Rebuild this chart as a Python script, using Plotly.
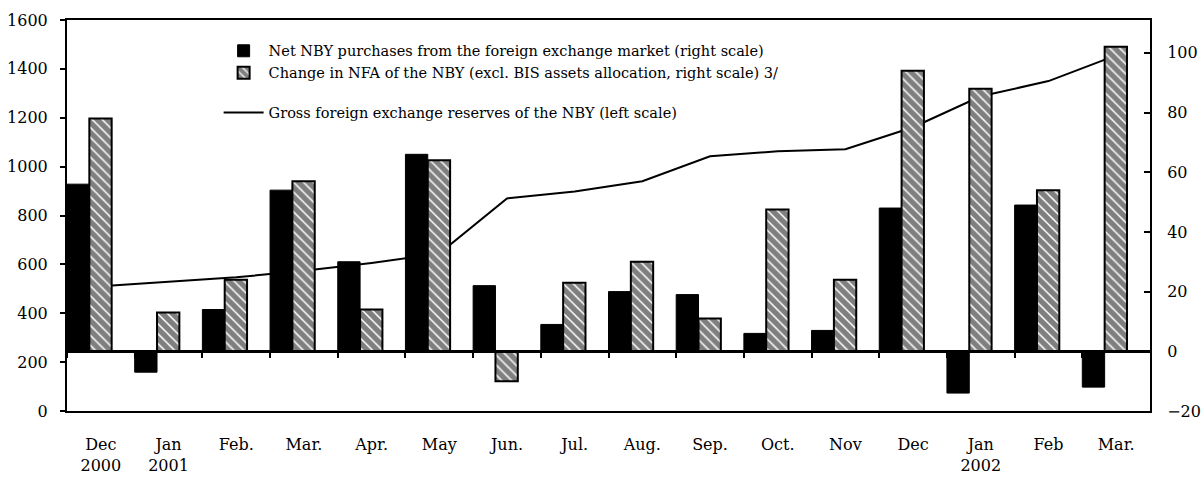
import plotly.graph_objects as go

# ---------------- data ----------------
tick_labels = ["Dec<br>2000", "Jan<br>2001", "Feb.", "Mar.", "Apr.", "May", "Jun.", "Jul.",
               "Aug.", "Sep.", "Oct.", "Nov", "Dec", "Jan<br>2002", "Feb", "Mar."]
positions = list(range(len(tick_labels)))

net_purchases = [56, -7, 14, 54, 30, 66, 22, 9, 20, 19, 6, 7, 48, -14, 49, -12]          # right scale
nfa_change = [78, 13, 24, 57, 14, 64, -10, 23, 30, 11, 47.5, 24, 94, 88, 54, 102]         # right scale
gross_reserves = [510, 530, 547, 574, 606, 644, 870, 898, 940, 1042, 1063, 1071, 1161,
                  1288, 1350, 1455]                                                       # left scale

left_ticks = [0, 200, 400, 600, 800, 1000, 1200, 1400, 1600]
right_ticks = [-20, 0, 20, 40, 60, 80, 100]
boundaries = [p - 0.5 for p in positions]

name_net = "Net NBY purchases from the foreign exchange market (right scale)"
name_nfa = "Change in NFA of the NBY (excl. BIS assets allocation, right scale) 3/"
name_res = "Gross foreign exchange reserves of the NBY (left scale)"

FONT = "DejaVu Serif, Liberation Serif, serif"
Y2_RANGE = [-20, 111]

fig = go.Figure()

fig.add_trace(go.Scatter(
    x=positions, y=gross_reserves, mode="lines", name=name_res,
    line=dict(color="black", width=2), xaxis="x", yaxis="y",
    legendgroup="b", legendrank=3,
))

fig.add_trace(go.Bar(
    x=positions, y=net_purchases, name=name_net, xaxis="x", yaxis="y2",
    offset=-0.5, width=0.33,
    marker=dict(color="black", line=dict(color="black", width=1)),
    legendgroup="a", legendrank=1,
))

fig.add_trace(go.Bar(
    x=positions, y=nfa_change, name=name_nfa, xaxis="x", yaxis="y2",
    offset=-0.17, width=0.33,
    marker=dict(color="white", line=dict(color="black", width=2),
                pattern=dict(shape="\\", fgcolor="black", bgcolor="white",
                             size=7, solidity=0.78, fillmode="overlay")),
    legendgroup="a", legendrank=2,
))

# helper trace to carry the category tick marks on the zero line of the right scale
fig.add_trace(go.Scatter(
    x=[positions[0]], y=[0], mode="none", xaxis="x2", yaxis="y2",
    showlegend=False, hoverinfo="skip",
))

zero_pos = (0 - Y2_RANGE[0]) / (Y2_RANGE[1] - Y2_RANGE[0])

fig.update_layout(
    width=1204, height=482,
    margin=dict(l=67, r=54, t=20, b=71, pad=0, autoexpand=False),
    paper_bgcolor="white", plot_bgcolor="white",
    font=dict(family=FONT, size=15, color="black"),
    barmode="overlay",
    showlegend=True,
    legend=dict(
        x=0.14, y=0.962, xanchor="left", yanchor="top",
        bgcolor="rgba(255,255,255,0)", borderwidth=0,
        font=dict(family=FONT, size=14.5, color="black"),
        traceorder="grouped", tracegroupgap=18, itemwidth=40,
    ),
    xaxis=dict(
        range=[-0.5, 15.5], tickmode="array", tickvals=positions, ticktext=tick_labels,
        ticks="", showline=True, linecolor="black", linewidth=2, mirror=True,
        showgrid=False, zeroline=False, ticklabelstandoff=18, automargin=False,
        tickfont=dict(family=FONT, size=16),
    ),
    xaxis2=dict(
        range=[-0.5, 15.5], overlaying="x", anchor="free", position=zero_pos,
        tickmode="array", tickvals=boundaries, showticklabels=False,
        ticks="outside", ticklen=5, tickwidth=2, tickcolor="black",
        showline=True, linecolor="black", linewidth=2.5,
        showgrid=False, zeroline=False, automargin=False,
    ),
    yaxis=dict(
        range=[0, 1600], tickmode="array", tickvals=left_ticks,
        ticks="outside", ticklen=5, tickwidth=2, tickcolor="black",
        showline=True, linecolor="black", linewidth=2,
        showgrid=False, zeroline=False, ticklabelstandoff=9, automargin=False,
        tickfont=dict(family=FONT, size=16),
    ),
    yaxis2=dict(
        range=Y2_RANGE, overlaying="y", side="right", tickmode="array", tickvals=right_ticks,
        ticks="inside", ticklen=6, tickwidth=2, tickcolor="black",
        showline=True, linecolor="black", linewidth=2,
        showgrid=False, zeroline=False, ticklabelstandoff=12, automargin=False,
        tickfont=dict(family=FONT, size=16),
    ),
)

fig.write_html(
    "out.html",
    config={"displayModeBar": False},
    post_script="document.body.style.margin='0';document.body.style.padding='0';"
                "document.documentElement.style.margin='0';",
)
